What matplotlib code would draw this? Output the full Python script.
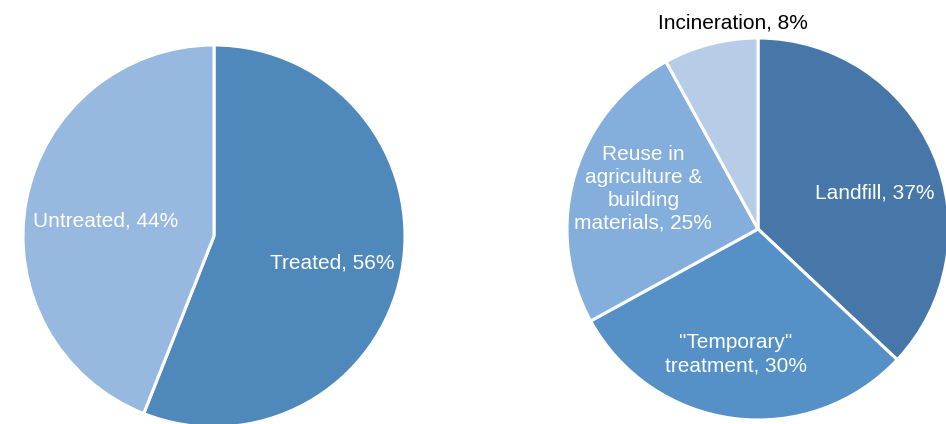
import matplotlib.pyplot as plt

plt.rcParams['font.family'] = ['Liberation Sans', 'DejaVu Sans']

# sludge share: treated vs untreated
treat_labels = ['Treated', 'Untreated']
treat_values = [56, 44]
treat_colors = ['#4F89BC', '#97B8DF']

# disposal route of the treated part
route_labels = ['Landfill', '"Temporary"\ntreatment',
                'Reuse in\nagriculture &\nbuilding\nmaterials', 'Incineration']
route_values = [37, 30, 25, 8]
route_colors = ['#4677A8', '#5590C7', '#84AEDB', '#B7CCE7']

W, H = 946, 424
R = 191


def pie_axes(fig, cx, cy):
    # square axes of radius R pixels around (cx, cy), cy measured from top
    ax = fig.add_axes([(cx - R) / W, (H - cy - R) / H, 2 * R / W, 2 * R / H])
    ax.set_xlim(-1, 1)
    ax.set_ylim(-1, 1)
    ax.axis('off')
    return ax


def draw_pie(ax, values, colors, labels, spots, text_colors):
    ax.pie(values, colors=colors, startangle=90, counterclock=False,
           radius=1, center=(0, 0), frame=False,
           wedgeprops=dict(edgecolor='white', linewidth=2.2))
    ax.set_xlim(-1, 1)
    ax.set_ylim(-1, 1)
    ax.set_aspect('auto')
    for lab, v, (x, y), c in zip(labels, values, spots, text_colors):
        ax.text(x, y, f'{lab}, {v}%', ha='center', va='center', color=c,
                fontsize=15, linespacing=1.27, clip_on=False)


fig = plt.figure(figsize=(W / 100, H / 100), dpi=100)

ax1 = pie_axes(fig, 214, 236)
draw_pie(ax1, treat_values, treat_colors, treat_labels,
         [(0.62, -0.14), (-0.57, 0.08)], ['white', 'white'])

ax2 = pie_axes(fig, 758, 229)
draw_pie(ax2, route_values, route_colors, route_labels,
         [(0.61, 0.19), (-0.115, -0.655), (-0.60, 0.21), (-0.13, 1.08)],
         ['white', 'white', 'white', 'black'])

fig.savefig('out.png', dpi=100)
